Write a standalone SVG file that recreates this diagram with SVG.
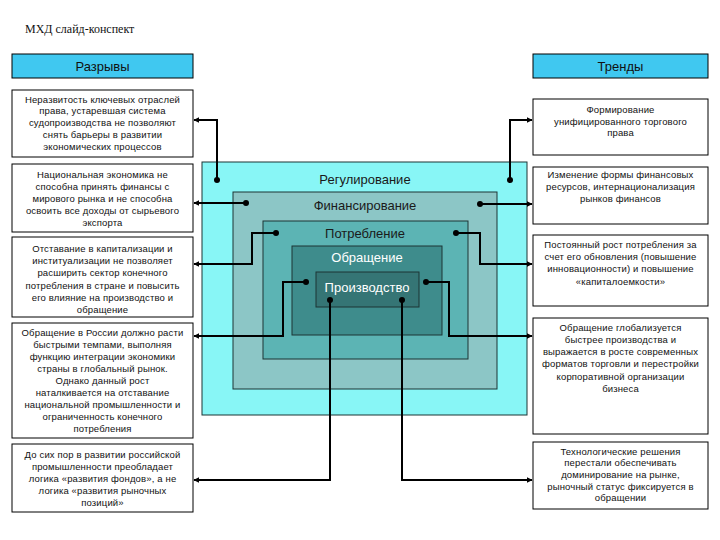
<svg xmlns="http://www.w3.org/2000/svg" width="720" height="540" viewBox="0 0 720 540">
<defs>
<style>
.box{fill:#fff;stroke:#000;stroke-width:1}
.hdr{fill:#40C8F0;stroke:#000;stroke-width:1}
.t{font-family:"Liberation Sans",Arial,sans-serif;font-size:9.5px;letter-spacing:0.15px;fill:#111;text-anchor:middle}
.h{font-family:"Liberation Sans",Arial,sans-serif;font-size:13px;fill:#111;text-anchor:middle}
.lv{font-family:"Liberation Sans",Arial,sans-serif;font-size:13px;text-anchor:middle}
.ring{stroke:#1c3434;stroke-width:1}
.c{fill:none;stroke:#000;stroke-width:2}
.dot{fill:#000}
</style>
<marker id="ar" viewBox="0 0 10 10" refX="9" refY="5" markerWidth="6" markerHeight="6" markerUnits="userSpaceOnUse" orient="auto">
<path d="M0,0 L10,5 L0,10 z" fill="#000"/>
</marker>
</defs>
<rect width="720" height="540" fill="#fff"/>
<text x="25" y="33" font-family="Liberation Serif,Times New Roman,serif" font-size="12px" fill="#111">МХД слайд-конспект</text>

<g id="hdr-left"><rect class="hdr" x="12" y="54" width="181" height="24"/><text class="h" x="102.5" y="71">Разрывы</text></g>
<g id="hdr-right"><rect class="hdr" x="533" y="54" width="175" height="24"/><text class="h" x="620.5" y="71">Тренды</text></g>

<g id="nested">
<rect class="ring" x="202" y="162" width="325" height="253" fill="#88F6F6"/>
<rect class="ring" x="233" y="192" width="264" height="197" fill="#8CC6C6"/>
<rect class="ring" x="263" y="221" width="205" height="138" fill="#5CB4B4"/>
<rect class="ring" x="292" y="246" width="150" height="89" fill="#3E8C8C"/>
<rect class="ring" x="316" y="272" width="103" height="35" fill="#357575"/>
<text class="lv" x="365" y="184" fill="#1a1a1a">Регулирование</text>
<text class="lv" x="365" y="210" fill="#1a1a1a">Финансирование</text>
<text class="lv" x="365" y="238" fill="#1a1a1a">Потребление</text>
<text class="lv" x="367" y="262" fill="#fff">Обращение</text>
<text class="lv" x="367" y="292" fill="#fff">Производство</text>
</g>

<g id="l1"><rect class="box" x="12" y="90" width="181" height="67"/>
<text class="t"><tspan x="102.5" y="103">Неразвитость ключевых отраслей</tspan><tspan x="102.5" y="114">права, устаревшая система</tspan><tspan x="102.5" y="126">судопроизводства не позволяют</tspan><tspan x="102.5" y="138">снять барьеры в развитии</tspan><tspan x="102.5" y="150">экономических процессов</tspan></text></g>
<g id="l2"><rect class="box" x="12" y="164" width="181" height="68"/>
<text class="t"><tspan x="102.5" y="178">Национальная экономика не</tspan><tspan x="102.5" y="190">способна принять финансы с</tspan><tspan x="102.5" y="202">мирового рынка и не способна</tspan><tspan x="102.5" y="214">освоить все доходы от сырьевого</tspan><tspan x="102.5" y="226">экспорта</tspan></text></g>
<g id="l3"><rect class="box" x="12" y="237" width="181" height="80"/>
<text class="t"><tspan x="102.5" y="252">Отставание в капитализации и</tspan><tspan x="102.5" y="264">институализации не позволяет</tspan><tspan x="102.5" y="276">расширить сектор конечного</tspan><tspan x="102.5" y="289">потребления в стране и повысить</tspan><tspan x="102.5" y="301">его влияние на производство и</tspan><tspan x="102.5" y="313">обращение</tspan></text></g>
<g id="l4"><rect class="box" x="12" y="323" width="181" height="115"/>
<text class="t"><tspan x="102.5" y="336">Обращение в России должно расти</tspan><tspan x="102.5" y="348">быстрыми темпами, выполняя</tspan><tspan x="102.5" y="360">функцию интеграции экономики</tspan><tspan x="102.5" y="372">страны в глобальный рынок.</tspan><tspan x="102.5" y="384">Однако данный рост</tspan><tspan x="102.5" y="396">наталкивается на отставание</tspan><tspan x="102.5" y="408">национальной промышленности и</tspan><tspan x="102.5" y="420">ограниченность конечного</tspan><tspan x="102.5" y="432">потребления</tspan></text></g>
<g id="l5"><rect class="box" x="12" y="444" width="181" height="68"/>
<text class="t"><tspan x="102.5" y="458">До сих пор в развитии российской</tspan><tspan x="102.5" y="470">промышленности преобладает</tspan><tspan x="102.5" y="482">логика «развития фондов», а не</tspan><tspan x="102.5" y="494">логика «развития рыночных</tspan><tspan x="102.5" y="506">позиций»</tspan></text></g>

<g id="r1"><rect class="box" x="533" y="99" width="175" height="56"/>
<text class="t"><tspan x="620.5" y="113">Формирование</tspan><tspan x="620.5" y="125">унифицированного торгового</tspan><tspan x="620.5" y="136">права</tspan></text></g>
<g id="r2"><rect class="box" x="533" y="167" width="175" height="57"/>
<text class="t"><tspan x="620.5" y="178">Изменение формы финансовых</tspan><tspan x="620.5" y="190">ресурсов, интернационализация</tspan><tspan x="620.5" y="202">рынков финансов</tspan></text></g>
<g id="r3"><rect class="box" x="533" y="235" width="175" height="71"/>
<text class="t"><tspan x="620.5" y="248">Постоянный рост потребления за</tspan><tspan x="620.5" y="260">счет его обновления (повышение</tspan><tspan x="620.5" y="272">инновационности) и повышение</tspan><tspan x="620.5" y="285">«капиталоемкости»</tspan></text></g>
<g id="r4"><rect class="box" x="533" y="318" width="175" height="116"/>
<text class="t"><tspan x="620.5" y="331">Обращение глобализуется</tspan><tspan x="620.5" y="343">быстрее производства и</tspan><tspan x="620.5" y="355">выражается в росте современных</tspan><tspan x="620.5" y="367">форматов торговли и перестройки</tspan><tspan x="620.5" y="380">корпоративной организации</tspan><tspan x="620.5" y="392">бизнеса</tspan></text></g>
<g id="r5"><rect class="box" x="533" y="442" width="175" height="67"/>
<text class="t"><tspan x="620.5" y="455">Технологические решения</tspan><tspan x="620.5" y="466">перестали обеспечивать</tspan><tspan x="620.5" y="478">доминирование на рынке,</tspan><tspan x="620.5" y="490">рыночный статус фиксируется в</tspan><tspan x="620.5" y="501">обращении</tspan></text></g>

<g id="connectors">
<path class="c" marker-end="url(#ar)" d="M217,180 V120 H194"/>
<path class="c" marker-end="url(#ar)" d="M510,180 V120 H532"/>
<path class="c" marker-end="url(#ar)" d="M246,203 H194"/>
<path class="c" marker-end="url(#ar)" d="M480,204 H532"/>
<path class="c" marker-end="url(#ar)" d="M276,233 H252 V264 H194"/>
<path class="c" marker-end="url(#ar)" d="M456,233 H480 V264 H532"/>
<path class="c" marker-end="url(#ar)" d="M306,282 H283 V336 H194"/>
<path class="c" marker-end="url(#ar)" d="M426,282 H449 V336 H532"/>
<path class="c" marker-end="url(#ar)" d="M330,300 V480 H194"/>
<path class="c" marker-end="url(#ar)" d="M402,300 V480 H532"/>
<circle class="dot" cx="217" cy="180" r="3"/>
<circle class="dot" cx="510" cy="180" r="3"/>
<circle class="dot" cx="246" cy="203" r="3"/>
<circle class="dot" cx="480" cy="204" r="3"/>
<circle class="dot" cx="276" cy="233" r="3"/>
<circle class="dot" cx="456" cy="233" r="3"/>
<circle class="dot" cx="306" cy="282" r="3"/>
<circle class="dot" cx="426" cy="282" r="3"/>
<circle class="dot" cx="330" cy="300" r="3"/>
<circle class="dot" cx="402" cy="300" r="3"/>
</g>
</svg>
